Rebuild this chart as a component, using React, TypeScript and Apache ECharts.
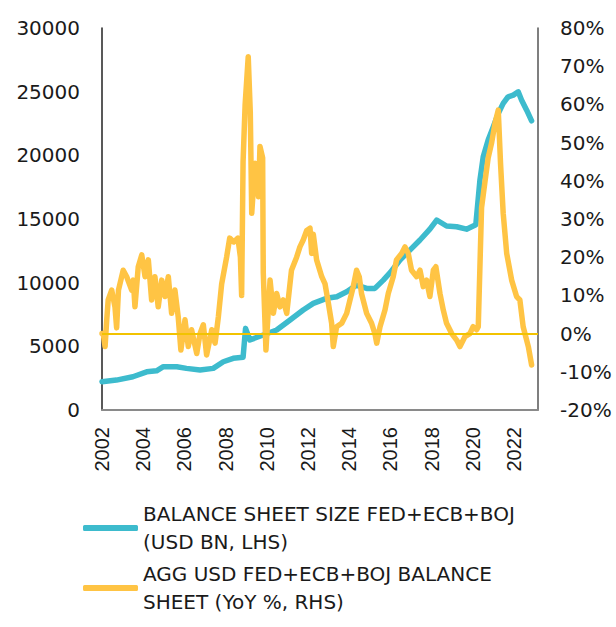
import React, { useEffect, useRef } from "react";
import * as echarts from "echarts";

const SERIES_BS = "BALANCE SHEET SIZE FED+ECB+BOJ\n(USD BN, LHS)";
const SERIES_YOY = "AGG USD FED+ECB+BOJ BALANCE\nSHEET (YoY %, RHS)";

const bsYears = [
  2002.0, 2002.7, 2003.5, 2004.17, 2004.65, 2004.98, 2005.63, 2006.1, 2006.76, 2007.4,
  2007.89, 2008.37, 2008.85, 2008.97, 2009.18, 2009.83, 2010.48, 2011.13, 2011.77, 2012.26,
  2012.9, 2013.4, 2013.88, 2014.36, 2014.85, 2015.25, 2015.66, 2016.0, 2016.47, 2016.95,
  2017.44, 2017.92, 2018.25, 2018.73, 2019.22, 2019.7, 2020.15, 2020.35, 2020.51, 2020.75,
  2021.0, 2021.24, 2021.48, 2021.72, 2021.97, 2022.21, 2022.37, 2022.62, 2022.86,
];
const bsValues = [
  2220, 2350, 2610, 3000, 3080, 3400, 3400, 3270, 3140, 3270,
  3790, 4060, 4150, 6410, 5500, 5890, 6280, 7070, 7850, 8370,
  8770, 8900, 9290, 9810, 9550, 9550, 10200, 10800, 11780, 12560,
  13350, 14200, 14920, 14450, 14390, 14200, 14550, 18050, 19880, 21200,
  22240, 23290, 24080, 24600, 24730, 24990, 24340, 23550, 22710,
];

const yoyYears = [
  2002.0, 2002.06, 2002.15, 2002.23, 2002.3, 2002.47, 2002.63, 2002.71, 2002.8, 2003.03,
  2003.2, 2003.44, 2003.52, 2003.6, 2003.76, 2003.93, 2004.09, 2004.25, 2004.41, 2004.57,
  2004.73, 2004.9, 2005.06, 2005.22, 2005.38, 2005.54, 2005.7, 2005.83, 2006.03, 2006.19,
  2006.35, 2006.6, 2006.76, 2006.92, 2007.08, 2007.33, 2007.49, 2007.65, 2007.81, 2008.05,
  2008.2, 2008.4, 2008.6, 2008.72, 2008.78, 2008.85, 2008.95, 2009.1, 2009.2, 2009.27,
  2009.43, 2009.6, 2009.67, 2009.8, 2009.83, 2009.96, 2010.16, 2010.32, 2010.48, 2010.64,
  2010.8, 2010.97, 2011.2, 2011.45, 2011.61, 2011.77, 2011.94, 2012.1, 2012.18, 2012.26,
  2012.42, 2012.67, 2012.83, 2012.99, 2013.15, 2013.23, 2013.39, 2013.64, 2013.88, 2014.04,
  2014.2, 2014.36, 2014.49, 2014.6, 2014.85, 2015.09, 2015.25, 2015.34, 2015.5, 2015.74,
  2015.9, 2016.14, 2016.3, 2016.55, 2016.71, 2016.87, 2017.03, 2017.28, 2017.44, 2017.6,
  2017.76, 2017.92, 2018.09, 2018.21, 2018.41, 2018.57, 2018.73, 2018.98, 2019.22, 2019.38,
  2019.62, 2019.86, 2020.02, 2020.19, 2020.27, 2020.35, 2020.43, 2020.6, 2020.75, 2020.92,
  2021.08, 2021.24, 2021.35, 2021.48, 2021.65, 2021.89, 2022.13, 2022.29, 2022.45, 2022.7,
  2022.86,
];
const yoyValues = [
  0, 0, -3.4, 3.6, 8.8, 11.4, 7, 1.5, 11.4, 16.6,
  14.9, 11.4, 14, 7, 17.5, 20.6, 14.9, 19.3, 8.8, 14.9,
  7, 14, 9.7, 14.9, 5.3, 11.4, 4.4, -4.3, 3.6, -3.4,
  1, -5.2, 0, 2.3, -5.6, 1, -2.5, 4.4, 13, 20,
  25, 24, 25, 20, 10, 45, 60, 72.5, 58, 31.5,
  44.6, 35.8, 49, 46, 16, -4.3, 14, 5.3, 10.5, 7,
  8.8, 5.3, 16.6, 20, 22.7, 24.5, 27, 27.6, 21, 26,
  19.3, 14.9, 13, 8, 2.7, -3.4, 1.8, 2.7, 5.3, 8.8,
  12.3, 16.6, 14.9, 10.5, 5.3, 2.7, 0, -2.5, 1.8, 6.2,
  10.5, 14.9, 19.3, 21, 22.7, 21, 16.6, 14.9, 16.6, 12.3,
  14, 9.7, 16.6, 17.5, 10.5, 6.2, 2.7, 0, -1.7, -3.4,
  -0.8, 0, 1.8, 1, 1.8, 17.5, 33, 40, 46, 50,
  55, 58.5, 44.6, 31.5, 21, 14, 9.7, 8.8, 1.8, -3.4,
  -8.2,
];

const leftTicks = { min: 0, max: 30000, interval: 5000 };
const rightTicks = { min: -20, max: 80, interval: 10 };
const xRange = { min: 2002, max: 2023.17, interval: 2 };

const TEAL = "#3DBBCD";
const YELLOW = "#FFC444";
const ZERO = "#F2C300";
const FONT = "DejaVu Sans";

export default function App() {
  const ref = useRef<HTMLDivElement>(null);
  useEffect(() => {
    if (!ref.current) return;
    const chart = echarts.init(ref.current, undefined, { renderer: "svg" });
    const bsData = bsYears.map((y, i) => [y, bsValues[i]]);
    const yoyData = yoyYears.map((y, i) => [y, yoyValues[i]]);
    const legendBase = {
      left: 83,
      orient: "vertical",
      padding: 0,
      itemWidth: 55,
      itemHeight: 6,
      icon: "roundRect",
      selectedMode: false,
      textStyle: {
        fontFamily: FONT,
        fontSize: 20,
        lineHeight: 28,
        color: "#1a1a1a",
        padding: [28, 0, 0, 0],
      },
    };
    chart.setOption({
      animation: false,
      backgroundColor: "#ffffff",
      grid: { left: 102, right: 78, top: 28, bottom: 217, containLabel: false },
      legend: [
        { ...legendBase, top: 486, data: [SERIES_BS] },
        { ...legendBase, top: 546, data: [SERIES_YOY] },
      ],
      xAxis: {
        type: "value",
        min: xRange.min,
        max: xRange.max,
        interval: xRange.interval,
        splitLine: { show: false },
        axisTick: { show: false },
        axisLine: { show: true, lineStyle: { color: "#8a8a8a", width: 2 } },
        axisLabel: {
          rotate: 90,
          margin: 17,
          fontFamily: "Liberation Sans",
          fontSize: 20,
          color: "#1a1a1a",
          showMaxLabel: false,
          formatter: (v: number) =>
            Math.abs(v - Math.round(v)) < 1e-6 && Math.round(v) % 2 === 0 ? String(Math.round(v)) : "",
        },
      },
      yAxis: [
        {
          type: "value",
          min: leftTicks.min,
          max: leftTicks.max,
          interval: leftTicks.interval,
          position: "left",
          splitLine: { show: false },
          axisTick: { show: false },
          axisLine: { show: true, lineStyle: { color: "#222222", width: 1.5 } },
          axisLabel: {
            margin: 22,
            fontFamily: FONT,
            fontSize: 20,
            color: "#1a1a1a",
            formatter: (v: number) => String(v),
          },
        },
        {
          type: "value",
          min: rightTicks.min,
          max: rightTicks.max,
          interval: rightTicks.interval,
          position: "right",
          splitLine: { show: false },
          axisTick: { show: false },
          axisLine: { show: true, lineStyle: { color: "#555555", width: 1.5 } },
          axisLabel: {
            margin: 22,
            fontFamily: FONT,
            fontSize: 20,
            color: "#1a1a1a",
            formatter: "{value}%",
          },
        },
      ],
      series: [
        {
          name: SERIES_BS,
          type: "line",
          yAxisIndex: 0,
          data: bsData,
          showSymbol: false,
          color: TEAL,
          lineStyle: { width: 5.5, color: TEAL, cap: "round", join: "round" },
          z: 2,
        },
        {
          name: SERIES_YOY,
          type: "line",
          yAxisIndex: 1,
          data: yoyData,
          showSymbol: false,
          color: YELLOW,
          lineStyle: { width: 5.5, color: YELLOW, cap: "round", join: "round" },
          z: 3,
          markLine: {
            silent: true,
            symbol: ["none", "none"],
            label: { show: false },
            lineStyle: { color: ZERO, width: 2, type: "solid" },
            data: [{ yAxis: 0 }],
          },
        },
      ],
    });
    return () => chart.dispose();
  }, []);
  return (
    <div
      ref={ref}
      style={{ position: "fixed", left: 0, top: 0, width: 616, height: 627 }}
    />
  );
}
